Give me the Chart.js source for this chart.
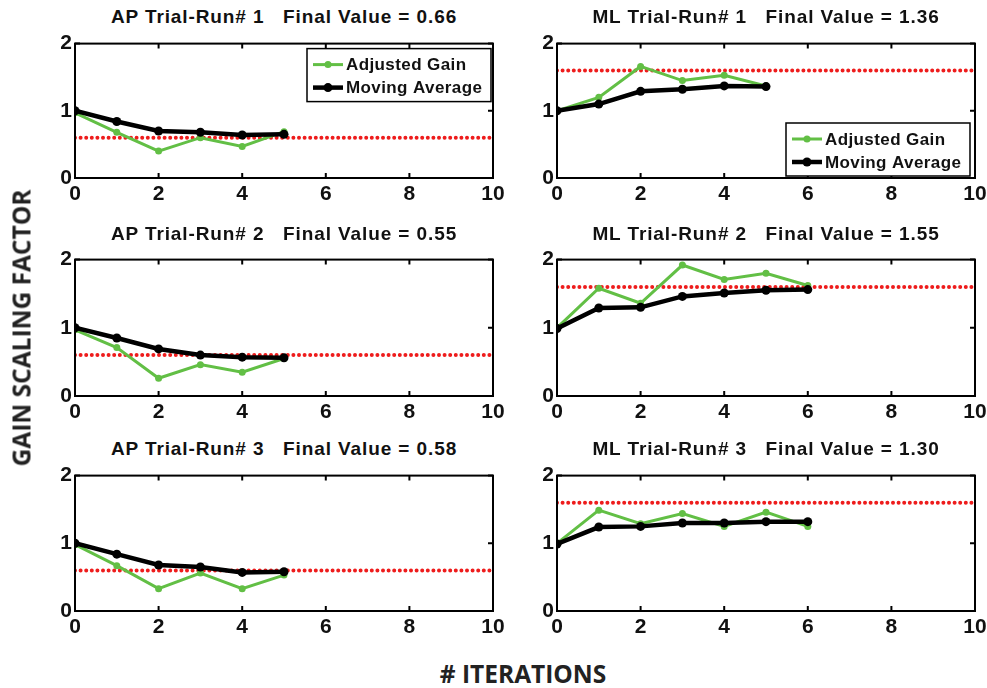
<!DOCTYPE html>
<html>
<head>
<meta charset="utf-8">
<script src="https://cdn.jsdelivr.net/npm/chart.js@4.4.1/dist/chart.umd.min.js"></script>
<style>
  body { margin: 0; background: #fff; }
  #page { position: relative; width: 987px; height: 688px; overflow: hidden; background: #fff; }
  canvas { position: absolute; }
  .title { position: absolute; font: bold 19px "Liberation Sans", Arial, sans-serif; letter-spacing: 0.9px; white-space: pre; transform: translate(-50%, -50%); color: #111; }
  .axislabel { position: absolute; font: bold 24.5px "Open Sans", sans-serif; color: #222; white-space: pre; transform: translate(-50%, -50%); }
</style>
</head>
<body>
<div id="page"></div>
<script>
'use strict';
// data
let apIter = [0, 1, 2, 3, 4, 5]
let mlIter1 = [0, 1, 2, 3, 4, 5]
let mlIter = [0, 1, 2, 3, 4, 5, 6]

let ap1Gain = [0.97, 0.68, 0.40, 0.60, 0.47, 0.69]
let ap1Avg = [1.00, 0.84, 0.70, 0.68, 0.64, 0.65]
let ap2Gain = [0.97, 0.71, 0.26, 0.46, 0.35, 0.55]
let ap2Avg = [1.00, 0.85, 0.69, 0.60, 0.57, 0.56]
let ap3Gain = [0.98, 0.67, 0.33, 0.56, 0.33, 0.53]
let ap3Avg = [1.00, 0.84, 0.68, 0.65, 0.57, 0.58]

let ml1Gain = [1.00, 1.20, 1.66, 1.45, 1.53, 1.37]
let ml1Avg = [1.00, 1.10, 1.29, 1.32, 1.37, 1.36]
let ml2Gain = [1.00, 1.58, 1.36, 1.92, 1.71, 1.80, 1.62]
let ml2Avg = [0.99, 1.29, 1.30, 1.46, 1.51, 1.55, 1.56]
let ml3Gain = [1.00, 1.49, 1.29, 1.44, 1.25, 1.46, 1.25]
let ml3Avg = [0.99, 1.24, 1.25, 1.30, 1.30, 1.32, 1.32]

let apTarget = 0.6
let mlTarget = 1.6

let titles = [
  'AP Trial-Run# 1   Final Value = 0.66',
  'ML Trial-Run# 1   Final Value = 1.36',
  'AP Trial-Run# 2   Final Value = 0.55',
  'ML Trial-Run# 2   Final Value = 1.55',
  'AP Trial-Run# 3   Final Value = 0.58',
  'ML Trial-Run# 3   Final Value = 1.30'
]
let xTicks = [0, 2, 4, 6, 8, 10]
let yTicks = [0, 1, 2]

const green = '#62bf45'
const red = '#ee1c1c'
const tickFont = { family: 'Liberation Sans', weight: 'bold', size: 21 }

// plot boxes on the page
let cols = [{ l: 75, r: 493 }, { l: 557, r: 975 }]
let rows = [{ t: 42, b: 178, ty: 17 }, { t: 258, b: 396, ty: 234 }, { t: 474, b: 611, ty: 449 }]

let page = document.getElementById('page')

function toPoints(xs, ys) {
  return xs.map((x, i) => ({ x: x, y: ys[i] }))
}

// matlab style box with inward ticks
const boxPlugin = {
  id: 'matBox',
  afterDatasetsDraw(chart) {
    const { ctx, chartArea: a, scales } = chart
    ctx.save()
    ctx.strokeStyle = '#000'
    ctx.lineWidth = 2
    ctx.strokeRect(a.left, a.top, a.width, a.height)
    ctx.beginPath()
    scales.x.ticks.forEach(t => {
      let px = scales.x.getPixelForValue(t.value)
      ctx.moveTo(px, a.bottom); ctx.lineTo(px, a.bottom - 5)
      ctx.moveTo(px, a.top); ctx.lineTo(px, a.top + 5)
    })
    scales.y.ticks.forEach(t => {
      let py = scales.y.getPixelForValue(t.value)
      ctx.moveTo(a.left, py); ctx.lineTo(a.left + 5, py)
      ctx.moveTo(a.right, py); ctx.lineTo(a.right - 5, py)
    })
    ctx.stroke()
    ctx.restore()
  }
}

// legend box drawn inside the plot
const legendPlugin = {
  id: 'boxLegend',
  afterDraw(chart, args, opts) {
    if (!opts.show) return
    const { ctx, chartArea: a } = chart
    let w = 184, h = 53
    let x = a.right - opts.inset - w
    let y = opts.corner === 'top' ? a.top + 5 : a.bottom - 2 - h
    ctx.save()
    ctx.fillStyle = '#fff'
    ctx.fillRect(x, y, w, h)
    ctx.strokeStyle = '#000'
    ctx.lineWidth = 1.5
    ctx.strokeRect(x, y, w, h)
    let items = chart.data.datasets.filter(d => d.label)
    items.forEach((d, i) => {
      let cy = y + 16 + i * 23
      ctx.strokeStyle = d.borderColor
      ctx.lineWidth = d.borderWidth
      ctx.beginPath()
      ctx.moveTo(x + 6, cy); ctx.lineTo(x + 36, cy)
      ctx.stroke()
      ctx.fillStyle = d.borderColor
      ctx.beginPath()
      ctx.arc(x + 21, cy, d.pointRadius, 0, Math.PI * 2)
      ctx.fill()
      ctx.fillStyle = '#111'
      ctx.font = 'bold 17px "Liberation Sans", Arial, sans-serif'
      ctx.letterSpacing = '0.4px'
      ctx.textBaseline = 'middle'
      ctx.fillText(d.label, x + 39, cy + 1)
    })
    ctx.restore()
  }
}

function makePanel(idx, iters, gain, avg, target, legend) {
  let col = cols[idx % 2]
  let row = rows[Math.floor(idx / 2)]
  let padL = 45, padT = 14, padR = 22, padB = 40
  let canvas = document.createElement('canvas')
  let w = col.r - col.l + padL + padR
  let h = row.b - row.t + padT + padB
  canvas.width = w
  canvas.height = h
  canvas.style.left = (col.l - padL) + 'px'
  canvas.style.top = (row.t - padT) + 'px'
  canvas.style.width = w + 'px'
  canvas.style.height = h + 'px'
  page.appendChild(canvas)

  let title = document.createElement('div')
  title.className = 'title'
  title.textContent = titles[idx]
  title.style.left = ((col.l + col.r) / 2) + 'px'
  title.style.top = row.ty + 'px'
  page.appendChild(title)

  new Chart(canvas.getContext('2d'), {
    type: 'line',
    data: {
      datasets: [
        {
          label: 'Adjusted Gain',
          data: toPoints(iters, gain),
          borderColor: green,
          backgroundColor: green,
          borderWidth: 3,
          pointRadius: 3.5,
          pointBorderWidth: 0,
          order: 2
        },
        {
          label: 'Moving Average',
          data: toPoints(iters, avg),
          borderColor: '#000',
          backgroundColor: '#000',
          borderWidth: 4.5,
          pointRadius: 4.5,
          pointBorderWidth: 0,
          order: 1
        },
        {
          label: '',
          data: [{ x: xTicks[0], y: target }, { x: xTicks[xTicks.length - 1], y: target }],
          borderColor: red,
          borderWidth: 4,
          borderDash: [0, 5.6],
          borderCapStyle: 'round',
          pointRadius: 0,
          order: 3
        }
      ]
    },
    options: {
      responsive: false,
      animation: false,
      layout: { padding: { top: padT, right: padR, left: 0, bottom: 0 } },
      plugins: {
        legend: { display: false },
        tooltip: { enabled: false },
        boxLegend: legend || { show: false }
      },
      scales: {
        x: {
          type: 'linear',
          min: 0,
          max: 10,
          afterFit: s => { s.height = padB },
          afterBuildTicks: s => { s.ticks = xTicks.map(v => ({ value: v })) },
          grid: { display: false, drawTicks: false },
          border: { display: false },
          ticks: { font: tickFont, color: '#111', padding: 4, maxRotation: 0, autoSkip: false }
        },
        y: {
          min: 0,
          max: 2,
          afterFit: s => { s.width = padL },
          afterBuildTicks: s => { s.ticks = yTicks.map(v => ({ value: v })) },
          grid: { display: false, drawTicks: false },
          border: { display: false },
          ticks: { font: tickFont, color: '#111', padding: 3 }
        }
      }
    },
    plugins: [boxPlugin, legendPlugin]
  })
}

makePanel(0, apIter, ap1Gain, ap1Avg, apTarget, { show: true, corner: 'top', inset: 2 })
makePanel(1, mlIter1, ml1Gain, ml1Avg, mlTarget, { show: true, corner: 'bottom', inset: 5 })
makePanel(2, apIter, ap2Gain, ap2Avg, apTarget)
makePanel(3, mlIter, ml2Gain, ml2Avg, mlTarget)
makePanel(4, apIter, ap3Gain, ap3Avg, apTarget)
makePanel(5, mlIter, ml3Gain, ml3Avg, mlTarget)

// shared axis labels
let yLab = document.createElement('div')
yLab.className = 'axislabel'
yLab.textContent = 'GAIN SCALING FACTOR'
yLab.style.left = '21px'
yLab.style.top = '328px'
yLab.style.transform = 'translate(-50%, -50%) rotate(-90deg)'
page.appendChild(yLab)

let xLab = document.createElement('div')
xLab.className = 'axislabel'
xLab.textContent = '# ITERATIONS'
xLab.style.left = '523px'
xLab.style.top = '673px'
page.appendChild(xLab)
</script>
</body>
</html>
